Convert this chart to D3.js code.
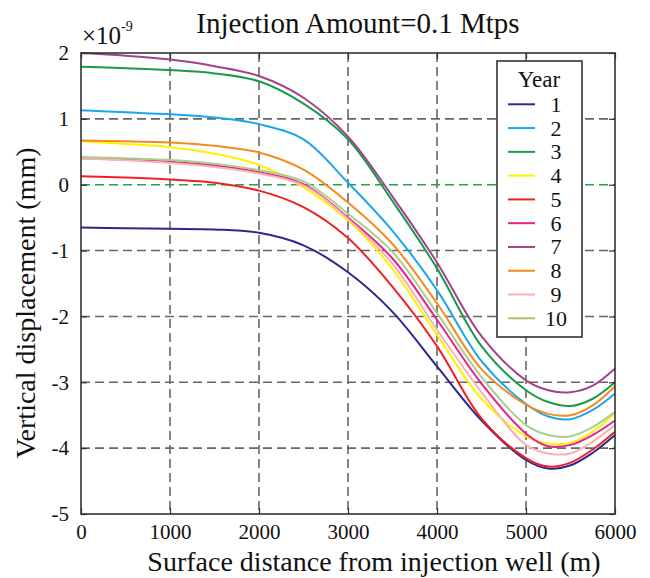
<!DOCTYPE html>
<html>
<head>
<meta charset="utf-8">
<script src="https://cdn.jsdelivr.net/npm/d3@7"></script>
<style>
  html, body { margin: 0; padding: 0; background: #fff; }
  svg { display: block; }
  text { font-family: "Liberation Serif", "Times New Roman", serif; fill: #111; }
</style>
</head>
<body>
<svg id="chart" width="650" height="578"></svg>
<script>
// ---- data ----
const distances = [0, 500, 1000, 1500, 2000, 2500, 3000, 3500, 4000, 4500, 5000, 5250, 5500, 5750, 6000];
const years = ["1", "2", "3", "4", "5", "6", "7", "8", "9", "10"];
const year1  = [-0.65, -0.66, -0.67, -0.68, -0.73, -0.92, -1.33, -1.93, -2.76, -3.58, -4.18, -4.31, -4.26, -4.07, -3.80];
const year2  = [1.13, 1.10, 1.07, 1.02, 0.92, 0.69, 0.03, -0.70, -1.60, -2.68, -3.33, -3.52, -3.56, -3.42, -3.17];
const year3  = [1.79, 1.77, 1.74, 1.69, 1.57, 1.23, 0.69, -0.25, -1.27, -2.45, -3.12, -3.30, -3.36, -3.25, -3.00];
const year4  = [0.66, 0.62, 0.57, 0.47, 0.30, -0.04, -0.54, -1.28, -2.28, -3.25, -3.82, -3.93, -3.92, -3.75, -3.47];
const year5  = [0.13, 0.11, 0.08, 0.03, -0.09, -0.34, -0.81, -1.55, -2.45, -3.55, -4.15, -4.28, -4.22, -4.02, -3.75];
const year6  = [0.40, 0.38, 0.35, 0.29, 0.19, 0.01, -0.50, -1.12, -2.05, -3.02, -3.78, -3.97, -3.95, -3.80, -3.58];
const year7  = [2.00, 1.96, 1.90, 1.80, 1.65, 1.32, 0.73, -0.18, -1.18, -2.30, -2.97, -3.12, -3.15, -3.05, -2.79];
const year8  = [0.67, 0.66, 0.64, 0.59, 0.49, 0.23, -0.27, -0.90, -1.80, -2.80, -3.34, -3.48, -3.50, -3.35, -3.06];
const year9  = [0.40, 0.37, 0.33, 0.27, 0.17, -0.01, -0.52, -1.20, -2.20, -3.15, -3.95, -4.08, -4.08, -3.90, -3.65];
const year10 = [0.42, 0.40, 0.375, 0.32, 0.22, 0.05, -0.44, -1.02, -1.95, -2.92, -3.65, -3.80, -3.82, -3.68, -3.45];
const seriesValues = [year1, year2, year3, year4, year5, year6, year7, year8, year9, year10];
const xTicks = [0, 1000, 2000, 3000, 4000, 5000, 6000];
const yTicks = [2, 1, 0, -1, -2, -3, -4, -5];
const colors = ["#2a2a8e", "#1aa7ec", "#1a9a4a", "#fff200", "#ee2222", "#e8208c", "#a3418f", "#f68a1f", "#f7b2b4", "#a8d08c"];
const legendColors = ["#2a2a8e", "#1aa7ec", "#1a9a4a", "#fff200", "#ee2222", "#e8208c", "#a3418f", "#f68a1f", "#f7b2b4", "#a9c46a"];

// ---- layout ----
const svg = d3.select("#chart");
const L = 81, R = 615, T = 53, B = 514;
const x = d3.scaleLinear().domain([0, 6000]).range([L, R]);
const y = d3.scaleLinear().domain([-5, 2]).range([B, T]);

// grid
const grid = svg.append("g");
grid.selectAll("line.vx").data(xTicks.filter(d => d > 0 && d < 6000)).enter().append("line")
  .attr("x1", d => x(d)).attr("x2", d => x(d)).attr("y1", T).attr("y2", B)
  .attr("stroke", "#666").attr("stroke-width", 1.6).attr("stroke-dasharray", "9,5");
grid.selectAll("line.hy").data(yTicks.filter(d => d < 2 && d > -5)).enter().append("line")
  .attr("x1", L).attr("x2", R).attr("y1", d => y(d)).attr("y2", d => y(d))
  .attr("stroke", d => d === 0 ? "#1fa64a" : "#666")
  .attr("stroke-width", 1.6).attr("stroke-dasharray", "9,5");

// curves
const line = d3.line()
  .x((d, i) => x(distances[i]))
  .y(d => y(d))
  .curve(d3.curveCatmullRom.alpha(0.5));
svg.append("g").selectAll("path").data(seriesValues).enter().append("path")
  .attr("d", d => line(d))
  .attr("fill", "none")
  .attr("stroke", (d, i) => colors[i])
  .attr("stroke-width", 2);

// axes (inward ticks)
const fmt = d => String(d);
svg.append("g").attr("transform", `translate(0,${B})`)
  .call(d3.axisBottom(x).tickValues(xTicks).tickSize(-6).tickPadding(10).tickFormat(fmt))
  .call(g => g.select(".domain").remove());
svg.append("g").attr("transform", `translate(0,${T})`)
  .call(d3.axisTop(x).tickValues(xTicks).tickSize(-6).tickFormat(""))
  .call(g => g.select(".domain").remove());
svg.append("g").attr("transform", `translate(${L},0)`)
  .call(d3.axisLeft(y).tickValues(yTicks).tickSize(-6).tickPadding(12).tickFormat(fmt))
  .call(g => g.select(".domain").remove());
svg.append("g").attr("transform", `translate(${R},0)`)
  .call(d3.axisRight(y).tickValues(yTicks).tickSize(-6).tickFormat(""))
  .call(g => g.select(".domain").remove());
svg.selectAll(".tick line").attr("stroke", "#333").attr("stroke-width", 1.2);
svg.selectAll(".tick text").style("font-family", '"Liberation Serif", "Times New Roman", serif')
  .style("font-size", "21px").attr("fill", "#111");

// frame
svg.append("rect").attr("x", L).attr("y", T).attr("width", R - L).attr("height", B - T)
  .attr("fill", "none").attr("stroke", "#333").attr("stroke-width", 1.6);

// titles
svg.append("text").attr("x", 358).attr("y", 33).attr("text-anchor", "middle")
  .style("font-size", "29px").text("Injection Amount=0.1 Mtps");
const mult = svg.append("text").attr("x", 82).attr("y", 44).style("font-size", "25px");
mult.append("tspan").text("×10");
mult.append("tspan").attr("dy", -13).style("font-size", "14px").text("-9");
svg.append("text").attr("x", 374).attr("y", 571).attr("text-anchor", "middle")
  .style("font-size", "28px").text("Surface distance from injection well (m)");
svg.append("text").attr("transform", "translate(35,303) rotate(-90)").attr("text-anchor", "middle")
  .style("font-size", "28px").text("Vertical displacement (mm)");

// legend
const lg = svg.append("g");
lg.append("rect").attr("x", 497).attr("y", 61).attr("width", 85).attr("height", 276)
  .attr("fill", "#fff").attr("stroke", "#333").attr("stroke-width", 1.6);
lg.append("text").attr("x", 539).attr("y", 87).attr("text-anchor", "middle")
  .style("font-size", "23px").text("Year");
const ly = d3.scalePoint().domain(years).range([104.3, 318.3]);
const items = lg.selectAll("g.item").data(years).enter().append("g");
items.append("line").attr("x1", 508).attr("x2", 535)
  .attr("y1", d => ly(d)).attr("y2", d => ly(d))
  .attr("stroke", (d, i) => legendColors[i]).attr("stroke-width", 2);
items.append("text").attr("x", 556).attr("y", d => ly(d) + 7.5).attr("text-anchor", "middle")
  .style("font-size", "22px").text(d => d);
</script>
</body>
</html>
